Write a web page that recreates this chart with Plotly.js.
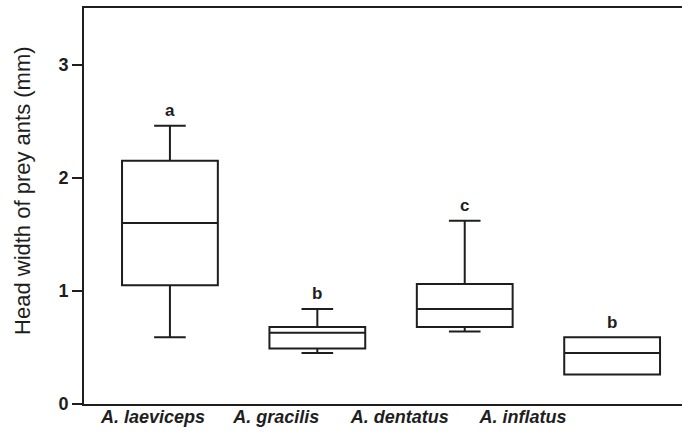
<!DOCTYPE html>
<html>
<head>
<meta charset="utf-8">
<script src="https://cdn.plot.ly/plotly-3.0.1.min.js"></script>
<style>html,body{margin:0;padding:0;background:#fff;}#chart{width:682px;height:437px;}</style>
</head>
<body>
<div id="chart"></div>
<script>
// Species (categories)
var species = ["A. laeviceps", "A. gracilis", "A. dentatus", "A. inflatus"];
// Box statistics (mm)
var lowerWhisker = [0.59, 0.45, 0.64, 0.26];
var q1Values     = [1.05, 0.49, 0.68, 0.26];
var medians      = [1.60, 0.63, 0.84, 0.45];
var q3Values     = [2.15, 0.68, 1.06, 0.59];
var upperWhisker = [2.46, 0.84, 1.62, 0.59];
// Significance letters
var letters = ["a", "b", "c", "b"];
var yTickVals = [0, 1, 2, 3];
var labelSlots = [0, 1, 2, 3];
var yTitle = "Head width of prey ants (mm)";

var FONT = "Liberation Sans, Arial, Helvetica, sans-serif";
var INK = "#1e1e1e";

var trace = {
  type: "box",
  x: species,
  q1: q1Values,
  median: medians,
  q3: q3Values,
  lowerfence: lowerWhisker,
  upperfence: upperWhisker,
  fillcolor: "rgba(255,255,255,0)",
  line: {color: INK, width: 2},
  whiskerwidth: 0.33,
  boxpoints: false,
  hoverinfo: "skip",
  showlegend: false
};

// invisible helper trace so the label axis is drawn
var labelTrace = {
  type: "scatter", mode: "markers",
  x: labelSlots, y: labelSlots.map(function () { return 0; }),
  xaxis: "x2", yaxis: "y",
  marker: {opacity: 0}, hoverinfo: "skip", showlegend: false
};

var annotations = species.map(function (s, i) {
  return {
    x: s, y: upperWhisker[i], xref: "x", yref: "y",
    text: "<b>" + letters[i] + "</b>",
    showarrow: false, yanchor: "middle", yshift: 15,
    font: {family: FONT, size: 17, color: INK}
  };
});
annotations.push({
  xref: "paper", yref: "paper", x: -0.104, y: 0.54,
  xanchor: "center", yanchor: "middle",
  text: yTitle, textangle: -90, showarrow: false,
  font: {family: FONT, size: 22, color: INK}
});

var layout = {
  width: 682, height: 437,
  margin: {l: 84, r: 0, t: 8, b: 33},
  paper_bgcolor: "#fff", plot_bgcolor: "#fff",
  boxgap: 0.35, boxgroupgap: 0,
  showlegend: false,
  xaxis: {
    type: "category",
    categoryorder: "array", categoryarray: species,
    range: [-0.583, 3.474],
    showline: true, linecolor: INK, linewidth: 2, mirror: true,
    ticks: "", showgrid: false, zeroline: false,
    showticklabels: false,
    fixedrange: true
  },
  xaxis2: {
    overlaying: "x", anchor: "y", side: "bottom",
    range: [-0.56, 4.29],
    tickvals: labelSlots, ticktext: species,
    ticks: "", showline: false, showgrid: false, zeroline: false,
    tickfont: {family: FONT, size: 18, color: INK, weight: "bold", style: "italic"},
    fixedrange: true
  },
  yaxis: {
    range: [0, 3.5],
    tickvals: yTickVals,
    showline: true, linecolor: INK, linewidth: 2,
    ticks: "outside", ticklen: 10, tickwidth: 2, tickcolor: INK,
    showgrid: false, zeroline: false,
    tickfont: {family: FONT, size: 18, color: INK, weight: "bold"},
    fixedrange: true
  },
  annotations: annotations
};

Plotly.newPlot("chart", [trace, labelTrace], layout, {staticPlot: true, displayModeBar: false});
</script>
</body>
</html>
